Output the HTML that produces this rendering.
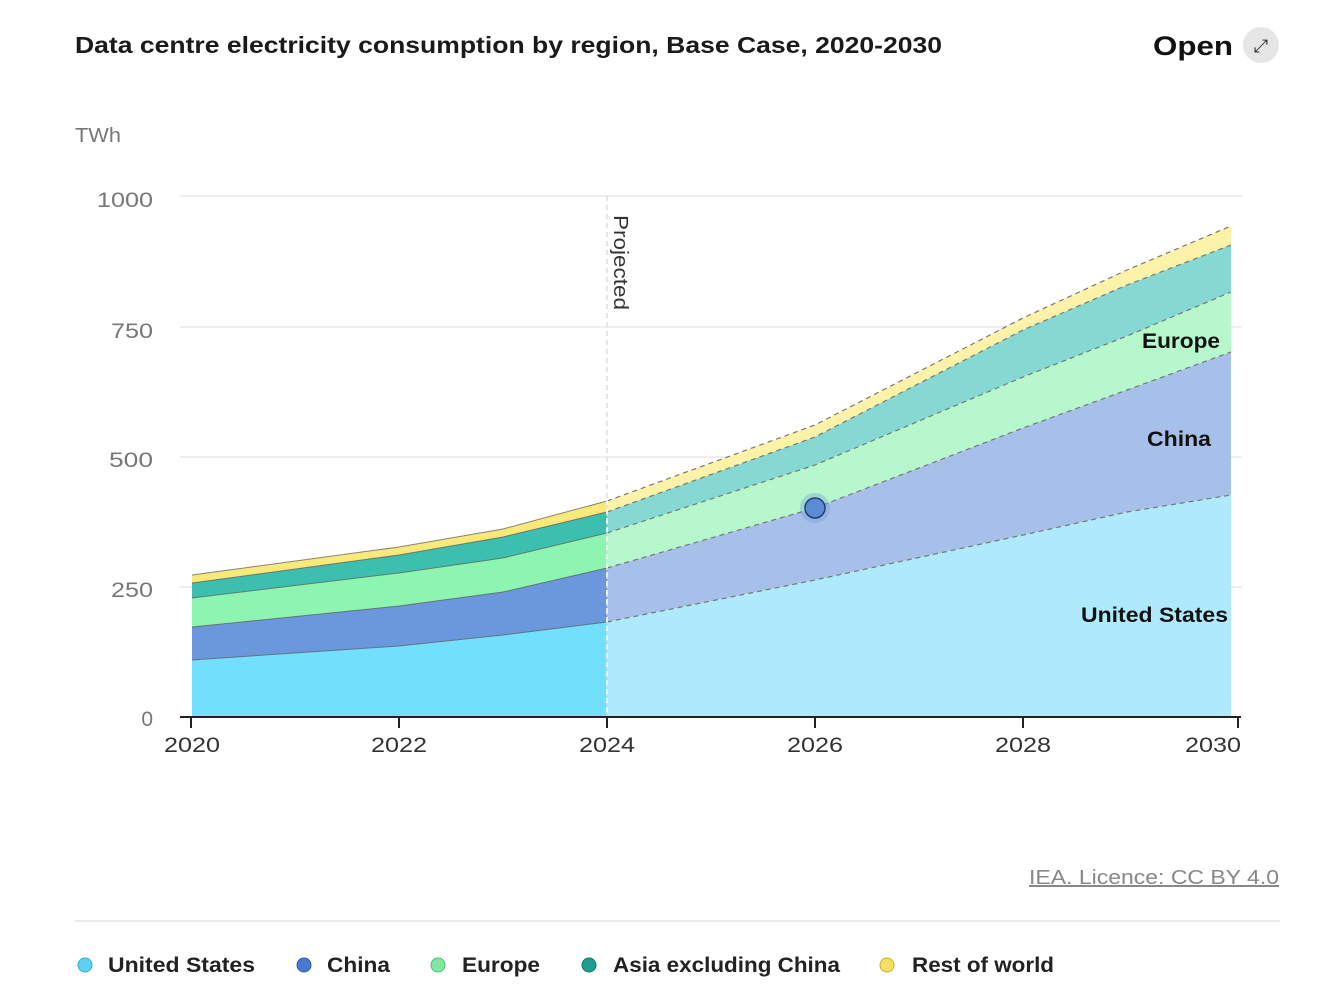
<!DOCTYPE html>
<html><head><meta charset="utf-8"><style>
body{margin:0;background:#fff;font-family:"Liberation Sans",sans-serif;}
svg text{font-family:"Liberation Sans",sans-serif;}
</style></head><body>
<svg width="1334" height="993" viewBox="0 0 1334 993" xmlns="http://www.w3.org/2000/svg">
<text x="75" y="53" font-size="23" font-weight="bold" fill="#1a1a1a" textLength="867" lengthAdjust="spacingAndGlyphs">Data centre electricity consumption by region, Base Case, 2020-2030</text>
<text x="1153" y="55" font-size="27" font-weight="bold" fill="#111" textLength="80" lengthAdjust="spacingAndGlyphs">Open</text>
<circle cx="1261" cy="45" r="18" fill="#e6e6e6"/>
<text x="1261" y="52" font-size="18" text-anchor="middle" fill="#333">⤢</text>
<text x="75" y="142" font-size="20" fill="#777" textLength="46" lengthAdjust="spacingAndGlyphs">TWh</text>
<g stroke="#e8e8e8" stroke-width="1.5">
<line x1="180" y1="196" x2="1242" y2="196"/><line x1="180" y1="327" x2="1242" y2="327"/>
<line x1="180" y1="457" x2="1242" y2="457"/><line x1="180" y1="587" x2="1242" y2="587"/>
</g>
<g font-size="21" fill="#777" text-anchor="end">
<text x="153" y="207" textLength="56" lengthAdjust="spacingAndGlyphs">1000</text><text x="153" y="338" textLength="42" lengthAdjust="spacingAndGlyphs">750</text><text x="153" y="467" textLength="44" lengthAdjust="spacingAndGlyphs">500</text><text x="153" y="597" textLength="42" lengthAdjust="spacingAndGlyphs">250</text><text x="153" y="726">0</text>
</g>
<polygon fill="#f9e97a" points="192,575 399,547 503,529 607,501 607,512 503,537 399,555 192,583"/>
<polygon fill="#3dbfb0" points="192,583 399,555 503,537 607,512 607,533 503,558 399,573 192,598"/>
<polygon fill="#8ef5b0" points="192,598 399,573 503,558 607,533 607,568 503,592 399,606 192,627"/>
<polygon fill="#6b98dd" points="192,627 399,606 503,592 607,568 607,622 503,635 399,646 192,660"/>
<polygon fill="#72dffd" points="192,660 399,646 503,635 607,622 607,717 192,717"/>
<g fill="none" stroke="#555" stroke-width="1" opacity="0.7">
<polyline points="192,575 399,547 503,529 607,501"/><polyline points="192,583 399,555 503,537 607,512"/>
<polyline points="192,598 399,573 503,558 607,533"/><polyline points="192,627 399,606 503,592 607,568"/>
<polyline points="192,660 399,646 503,635 607,622"/>
</g>
<polygon fill="#fdf3a8" points="607,501 815,425 1023,318 1127,270 1231,226 1231,245 1127,285 1023,330 815,437 607,512"/>
<polygon fill="#86d9d3" points="607,512 815,437 1023,330 1127,285 1231,245 1231,292 1127,336 1023,377 815,465 607,533"/>
<polygon fill="#b6f7cc" points="607,533 815,465 1023,377 1127,336 1231,292 1231,352 1127,390 1023,428 815,508 607,568"/>
<polygon fill="#a7c0ea" points="607,568 815,508 1023,428 1127,390 1231,352 1231,495 1127,512 1023,535 815,580 607,622"/>
<polygon fill="#aeeafc" points="607,622 815,580 1023,535 1127,512 1231,495 1231,717 607,717"/>
<g fill="none" stroke="#777" stroke-width="1.2" stroke-dasharray="5,4">
<polyline points="607,501 815,425 1023,318 1127,270 1231,226"/>
<polyline points="607,512 815,437 1023,330 1127,285 1231,245"/>
<polyline points="607,533 815,465 1023,377 1127,336 1231,292"/>
<polyline points="607,568 815,508 1023,428 1127,390 1231,352"/>
<polyline points="607,622 815,580 1023,535 1127,512 1231,495"/>
</g>
<line x1="607" y1="196" x2="607" y2="717" stroke="#ddd" stroke-width="1.5" stroke-dasharray="5,4"/>
<line x1="607" y1="500" x2="607" y2="717" stroke="#fff" stroke-width="1.5" stroke-dasharray="5,4"/>
<text transform="translate(614,215) rotate(90)" font-size="20" fill="#333" textLength="95" lengthAdjust="spacingAndGlyphs">Projected</text>
<circle cx="815" cy="508" r="15" fill="#6b98dd" opacity="0.35"/>
<circle cx="815" cy="508" r="10" fill="#5b8ad6" stroke="#2b3e66" stroke-width="1.5"/>
<g font-size="21" font-weight="bold" fill="#111" text-anchor="end">
<text x="1220" y="348" textLength="78" lengthAdjust="spacingAndGlyphs">Europe</text><text x="1211" y="446" textLength="64" lengthAdjust="spacingAndGlyphs">China</text><text x="1228" y="622" textLength="147" lengthAdjust="spacingAndGlyphs">United States</text>
</g>
<line x1="180" y1="717" x2="1241" y2="717" stroke="#222" stroke-width="2"/>
<g stroke="#222" stroke-width="2">
<line x1="191" y1="717" x2="191" y2="728"/><line x1="399" y1="717" x2="399" y2="728"/><line x1="607" y1="717" x2="607" y2="728"/>
<line x1="815" y1="717" x2="815" y2="728"/><line x1="1023" y1="717" x2="1023" y2="728"/><line x1="1238" y1="717" x2="1238" y2="728"/>
</g>
<g font-size="21" fill="#333" text-anchor="middle">
<text x="192" y="752" textLength="56" lengthAdjust="spacingAndGlyphs">2020</text><text x="399" y="752" textLength="56" lengthAdjust="spacingAndGlyphs">2022</text><text x="607" y="752" textLength="56" lengthAdjust="spacingAndGlyphs">2024</text>
<text x="815" y="752" textLength="56" lengthAdjust="spacingAndGlyphs">2026</text><text x="1023" y="752" textLength="56" lengthAdjust="spacingAndGlyphs">2028</text><text x="1213" y="752" textLength="56" lengthAdjust="spacingAndGlyphs">2030</text>
</g>
<text x="1279" y="884" font-size="20" fill="#888" text-anchor="end" text-decoration="underline" textLength="250" lengthAdjust="spacingAndGlyphs">IEA. Licence: CC BY 4.0</text>
<line x1="75" y1="921" x2="1280" y2="921" stroke="#e6e6e6" stroke-width="1.5"/>
<g font-size="21" font-weight="bold" fill="#222">
<circle cx="85" cy="965" r="7" fill="#5cd0f5" stroke="#3aa8cc"/><text x="108" y="972" textLength="147" lengthAdjust="spacingAndGlyphs">United States</text>
<circle cx="304" cy="965" r="7" fill="#4a78d0" stroke="#2f5bb0"/><text x="327" y="972" textLength="63" lengthAdjust="spacingAndGlyphs">China</text>
<circle cx="438" cy="965" r="7" fill="#7ee8a0" stroke="#4cc070"/><text x="462" y="972" textLength="78" lengthAdjust="spacingAndGlyphs">Europe</text>
<circle cx="589" cy="965" r="7" fill="#1e9e8e" stroke="#107a6c"/><text x="613" y="972" textLength="227" lengthAdjust="spacingAndGlyphs">Asia excluding China</text>
<circle cx="887" cy="965" r="7" fill="#f5e060" stroke="#c8b020"/><text x="912" y="972" textLength="142" lengthAdjust="spacingAndGlyphs">Rest of world</text>
</g>
</svg>
</body></html>
